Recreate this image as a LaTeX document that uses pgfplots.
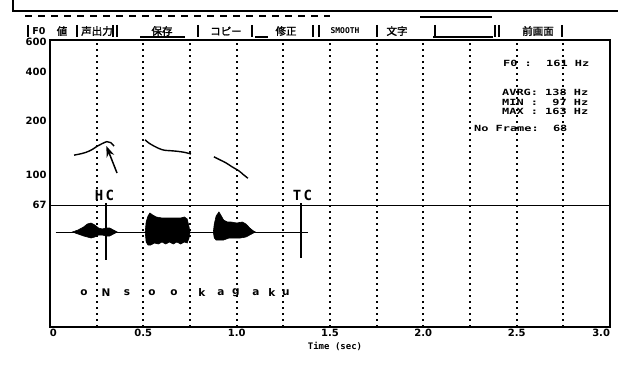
\documentclass[border=0pt]{standalone}
\usepackage{pgfplots}
\pgfplotsset{compat=1.18}
\usepackage{fontspec}
\setmainfont{DejaVu Sans}
\newfontfamily\mono{DejaVu Sans Mono}
\newfontfamily\cjk{Noto Sans CJK JP}[FakeBold=1.5]
\usetikzlibrary{arrows.meta}
\newcommand\ph{\bfseries\fontsize{10.5}{10.5}\selectfont}
\newcommand\info{\mono\bfseries\fontsize{8.5}{8.5}\selectfont}
\begin{document}
\begin{tikzpicture}[x=1pt,y=1pt]
\path[use as bounding box] (0pt,0pt) rectangle (618pt,381pt);
% outer window frame
\draw[line width=2pt] (13pt,381pt) -- (13pt,370pt) -- (618pt,370pt);
\draw[line width=1.2pt, dash pattern=on 7pt off 6pt] (25pt,365pt) -- (330pt,365pt);
\draw[line width=1.2pt] (420pt,364pt) -- (492pt,364pt);
% menu bar
\begin{scope}[every node/.style={inner sep=0pt}]
\node at (39pt,350pt) {\bfseries\fontsize{9.5}{9.5}\selectfont F0};
\node at (62pt,350pt) {\cjk\fontsize{10.5}{10.5}\selectfont 値};
\node at (97pt,350pt) {\cjk\fontsize{10.5}{10.5}\selectfont 声出力};
\node at (162pt,350pt) {\cjk\fontsize{10.5}{10.5}\selectfont 保存};
\node at (226pt,350pt) {\cjk\fontsize{10.5}{10.5}\selectfont コピー};
\node at (286pt,350pt) {\cjk\fontsize{10.5}{10.5}\selectfont 修正};
\node at (345pt,350pt) {\mono\bfseries\fontsize{8}{8}\selectfont SMOOTH};
\node at (397pt,350pt) {\cjk\fontsize{10.5}{10.5}\selectfont 文字};
\node at (538pt,350pt) {\cjk\fontsize{10.5}{10.5}\selectfont 前画面};
\end{scope}
\foreach \xx in {28,77,113,117,198,252,313,319,377,435,495,499,562}
  \draw[line width=1.3pt] (\xx pt,356pt) -- (\xx pt,344pt);
\draw[line width=1.2pt] (140pt,344pt) -- (185pt,344pt);
\draw[line width=1.2pt] (433pt,344pt) -- (493pt,344pt);
\draw[line width=1.2pt] (255pt,344pt) -- (268pt,344pt);
% F0 axis (log scale)
\begin{axis}[
  at={(50pt,54pt)}, anchor=south west, scale only axis,
  width=560pt, height=287pt,
  xmin=0, xmax=3, ymode=log, ymin=13.0, ymax=615.6,
  axis line style={line width=2pt},
  xtick={0,0.5,1.0,1.5,2.0,2.5,3.0},
  xticklabels={\makebox[0pt][l]{0},0.5,1.0,1.5,2.0,2.5,\makebox[0pt][r]{3.0}},
  minor x tick num=1,
  xmajorgrids, xminorgrids,
  major grid style={black, line width=1.7pt, dash pattern=on 1.7pt off 4.3pt},
  minor grid style={black, line width=1.7pt, dash pattern=on 1.7pt off 4.3pt},
  ytick={67,100,200,400,600},
  yticklabels={67,\raisebox{-2pt}{100},\raisebox{6pt}{200},\raisebox{-3pt}{400},\raisebox{-3pt}{600}},
  major tick length=0pt, minor tick length=0pt,
  tick label style={font=\bfseries\fontsize{10}{10}\selectfont},
  xticklabel style={yshift=1pt},
  /pgf/number format/assume math mode=true,
]
\addplot[line width=1pt] coordinates {(0,67) (3,67)};
\addplot[line width=1.4pt, smooth, tension=0.5] coordinates {
  (0.129,131) (0.160,133) (0.193,136) (0.225,141) (0.250,147)
  (0.280,153) (0.305,157) (0.325,155) (0.343,148)};
\addplot[line width=1.4pt, smooth, tension=0.5] coordinates {
  (0.509,161) (0.530,154) (0.557,148) (0.585,143) (0.611,140)
  (0.645,139) (0.680,138) (0.720,136) (0.755,133)};
\addplot[line width=1.4pt, smooth, tension=0.5] coordinates {
  (0.878,128) (0.910,123) (0.943,118) (0.975,112) (1.012,106)
  (1.035,101) (1.060,96)};
\end{axis}
% waveform / label axis (linear, amplitude around baseline)
\begin{axis}[
  at={(50pt,54pt)}, anchor=south west, scale only axis,
  width=560pt, height=287pt,
  xmin=0, xmax=3, ymin=-95, ymax=192, hide axis,
]
\addplot[line width=1pt] coordinates {(0.03,0) (1.38,0)};
\addplot[fill=black, draw=black, line width=0.6pt] coordinates {
  (0.12,0) (0.15,2) (0.18,5) (0.20,8) (0.22,9) (0.24,7) (0.26,4)
  (0.28,3) (0.30,4) (0.32,4) (0.34,2) (0.36,0)
  (0.34,-2) (0.32,-4) (0.30,-4) (0.28,-3) (0.26,-3) (0.24,-5)
  (0.22,-6) (0.20,-5) (0.18,-4) (0.15,-2) (0.12,0)} -- cycle;
\addplot[fill=black, draw=black, line width=0.6pt] coordinates {
  (0.510,0) (0.515,10) (0.525,16) (0.535,19) (0.55,17) (0.57,15)
  (0.60,14) (0.65,14) (0.70,14) (0.72,15) (0.735,13) (0.745,5) (0.75,0)
  (0.745,-6) (0.735,-11) (0.72,-10) (0.70,-12) (0.68,-10) (0.66,-12)
  (0.64,-10) (0.62,-12) (0.60,-10) (0.58,-12) (0.56,-11) (0.54,-13)
  (0.525,-13) (0.515,-10) (0.510,0)} -- cycle;
\addplot[fill=black, draw=black, line width=0.6pt] coordinates {
  (0.875,0) (0.88,8) (0.89,16) (0.905,20) (0.915,17) (0.93,12)
  (0.95,10) (0.97,10) (1.00,9) (1.03,10) (1.05,8) (1.07,4) (1.09,1) (1.10,0)
  (1.09,-1) (1.07,-3) (1.05,-5) (1.02,-6) (0.99,-6) (0.96,-6)
  (0.93,-8) (0.91,-8) (0.89,-8) (0.88,-6) (0.875,0)} -- cycle;
% HC / TC markers
\addplot[line width=1.6pt] coordinates {(0.300,29) (0.300,-28)};
\addplot[line width=1.6pt] coordinates {(1.344,29) (1.344,-26)};
\node[inner sep=0pt] at (axis cs:0.292,37) {\mono\bfseries\fontsize{14}{14}\selectfont H\,C};
\node[inner sep=0pt] at (axis cs:1.352,37) {\mono\bfseries\fontsize{14}{14}\selectfont T\,C};
% phoneme labels
\node[inner sep=0pt] at (axis cs:0.182,-61) {\ph o};
\node[inner sep=0pt] at (axis cs:0.300,-61) {\ph N};
\node[inner sep=0pt] at (axis cs:0.412,-61) {\ph s};
\node[inner sep=0pt] at (axis cs:0.546,-61) {\ph o};
\node[inner sep=0pt] at (axis cs:0.664,-61) {\ph o};
\node[inner sep=0pt] at (axis cs:0.814,-61) {\ph k};
\node[inner sep=0pt] at (axis cs:0.916,-61) {\ph a};
\node[inner sep=0pt] at (axis cs:0.996,-61) {\ph g};
\node[inner sep=0pt] at (axis cs:1.103,-61) {\ph a};
\node[inner sep=0pt] at (axis cs:1.189,-61) {\ph k};
\node[inner sep=0pt] at (axis cs:1.264,-61) {\ph u};
% cursor
\draw[line width=1.5pt, -{Stealth[length=11pt,width=8pt]}] (axis cs:0.359,59) -- (axis cs:0.302,86);
\end{axis}
% info text
\begin{scope}[every node/.style={inner sep=0pt, anchor=west}]
\node at (503pt,318pt) {\scalebox{1.4}[1]{\info F0~:~~161~Hz}};
\node at (502pt,289pt) {\scalebox{1.4}[1]{\info AVRG:~138~Hz}};
\node at (502pt,279pt) {\scalebox{1.4}[1]{\info MIN~:~~97~Hz}};
\node at (502pt,270pt) {\scalebox{1.4}[1]{\info MAX~:~163~Hz}};
\node at (474pt,253pt) {\scalebox{1.4}[1]{\info No~Frame:~~68}};
\node[anchor=center] at (335pt,35pt) {\mono\bfseries\fontsize{9}{9}\selectfont Time (sec)};
\end{scope}
\end{tikzpicture}
\end{document}
